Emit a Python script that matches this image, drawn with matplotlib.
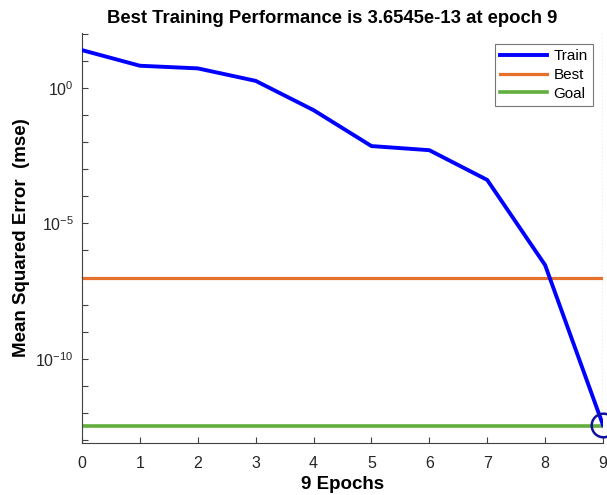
import numpy as np
import matplotlib
matplotlib.use("Agg")
import matplotlib.pyplot as plt
from matplotlib.ticker import FixedLocator, NullFormatter

epochs = [0, 1, 2, 3, 4, 5, 6, 7, 8, 9]
train_mse = [24.5, 6.5, 5.2, 1.8, 0.15, 7.1e-3, 5.0e-3, 4.0e-4, 2.9e-7, 3.6545e-13]
best_level = 1.0e-7
goal_level = 3.4e-13
best_epoch = 9
best_value = 3.6545e-13
x_ticks = [0, 1, 2, 3, 4, 5, 6, 7, 8, 9]
y_major = [1e-10, 1e-5, 1e0]
y_major_labels = [r'$\mathregular{10^{-10}}$', r'$\mathregular{10^{-5}}$', r'$\mathregular{10^{0}}$']
y_minor = [10.0 ** k for k in range(-13, 3)]

plt.rcParams['font.family'] = ['Liberation Sans', 'DejaVu Sans']
plt.rcParams['mathtext.fontset'] = 'custom'
plt.rcParams['mathtext.rm'] = 'Liberation Sans'
plt.rcParams['mathtext.it'] = 'Liberation Sans:italic'
plt.rcParams['mathtext.bf'] = 'Liberation Sans:bold'

fig = plt.figure(figsize=(6.07, 4.95), dpi=100)
ax = fig.add_axes([0.1351, 0.105, 0.9934 - 0.1351, 0.9333 - 0.105])

ax.plot(epochs, train_mse, color='#0000FF', lw=2.8, label='Train', zorder=3)
ax.plot([epochs[0], epochs[-1]], [best_level, best_level], color='#E5712D', lw=2.3, label='Best', zorder=2)
ax.plot([epochs[0], epochs[-1]], [goal_level, goal_level], color='#62AD3C', lw=2.6, label='Goal', zorder=2)
ax.axvline(best_epoch, color='#9a9a9a', lw=1.0, ls=':', zorder=1)
ax.plot([best_epoch], [best_value], 'o', ms=17, mfc='none', mec='#1010A0', mew=1.8, clip_on=False, zorder=4)

ax.set_yscale('log')
ax.set_xlim(0, 9)
ax.set_ylim(10 ** -13.1, 10 ** 2.02)

ax.xaxis.set_major_locator(FixedLocator(x_ticks))
ax.yaxis.set_major_locator(FixedLocator(y_major))
ax.yaxis.set_minor_locator(FixedLocator(y_minor))
ax.yaxis.set_minor_formatter(NullFormatter())
ax.set_yticklabels(y_major_labels)

ax.tick_params(axis='both', which='both', direction='in', colors='#404040', labelcolor='#262626', labelsize=11.5)
ax.tick_params(axis='both', which='major', length=4, width=0.8)
ax.tick_params(axis='y', which='minor', length=4, width=0.8)
ax.tick_params(axis='x', pad=9)
ax.tick_params(axis='y', pad=6)

for s in ['top', 'right']:
    ax.spines[s].set_visible(False)
for s in ['left', 'bottom']:
    ax.spines[s].set_color('#404040')
    ax.spines[s].set_linewidth(0.8)

ax.set_title('Best Training Performance is 3.6545e-13 at epoch 9', fontsize=13.3, fontweight='bold', pad=7, x=0.48)
ax.set_xlabel('9 Epochs', fontsize=13.5, fontweight='bold', labelpad=4)
ax.set_ylabel('Mean Squared Error  (mse)', fontsize=13.5, fontweight='bold', labelpad=4)

leg = ax.legend(loc='upper right', bbox_to_anchor=(0.981, 0.973), borderaxespad=0, fontsize=11, frameon=True,
                fancybox=False, edgecolor='#555555', handlelength=3.1, borderpad=0.35, labelspacing=0.3,
                handletextpad=0.4)
leg.get_frame().set_linewidth(0.8)

fig.savefig('out.png', dpi=100, facecolor='white')
